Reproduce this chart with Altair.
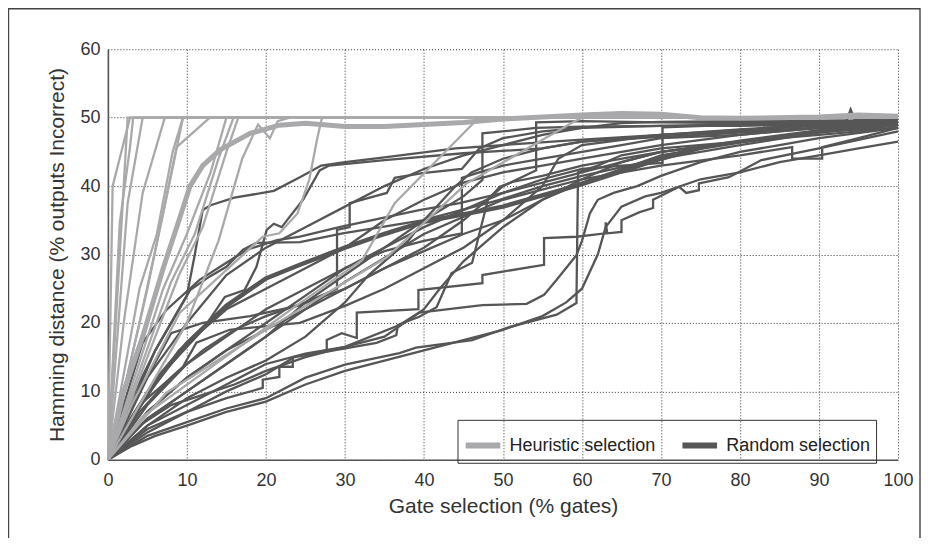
import altair as alt
import pandas as pd

# ---------------- data ----------------
X_TICKS = [0, 10, 20, 30, 40, 50, 60, 70, 80, 90, 100]
Y_TICKS = [0, 10, 20, 30, 40, 50, 60]
GROUPS = ["Heuristic selection", "Random selection"]

# heuristic selection runs (x = % gates, y = % outputs incorrect)
heur_01 = [(0, 0), (0.6, 40), (2.8, 50), (100, 50)]
heur_02 = [(0, 0), (1.5, 34.6), (2.8, 45.7), (3.2, 50), (100, 50)]
heur_03 = [(0, 0), (2.5, 50), (100, 50)]
heur_04 = [(0, 0), (2.5, 37.5), (4.4, 50), (100, 50)]
heur_05 = [(0, 0), (4, 25), (6.2, 33), (8.2, 45), (9.5, 50), (100, 50)]
heur_06 = [(0, 0), (2, 20), (4.4, 39), (7.2, 50), (100, 50)]
heur_07 = [(0, 0), (5, 25), (8.7, 45.7), (12.9, 50), (100, 50)]
heur_08 = [(0, 0), (7, 25), (10, 33), (13, 42), (15, 50), (100, 50)]
heur_09 = [(0, 0), (8, 26), (11, 33), (14, 44), (15.9, 50), (100, 50)]
heur_10 = [(0, 0), (9, 27), (12, 34), (15, 45), (16.5, 50), (100, 50)]
heur_11 = [(0, 0), (6, 12), (10, 20), (14, 32), (17, 44), (19, 49), (20.5, 47),
           (21.5, 49.5), (23, 50), (100, 50)]
heur_12 = [(0, 0), (3, 8), (9.1, 21.5), (19.6, 32.6), (21.7, 33.1), (24, 36),
           (25.5, 41), (26.5, 47), (27.1, 50), (100, 50)]
heur_13 = [(0, 0), (4.4, 6.3), (24.3, 22.9), (32.2, 29.2), (36.3, 37.5),
           (46, 48.9), (47, 50), (100, 50)]
heur_14 = [(0, 0), (7.4, 9.8), (20, 19), (35.3, 29.6), (45.4, 40.4),
           (58.8, 49.3), (60, 50), (100, 50)]
heur_15 = [(0, 0), (4, 20), (7, 36), (9.5, 50), (100, 50)]
heur_mean = [(0, 0), (2, 10), (4.4, 18), (7, 28), (9, 35), (10.4, 40), (12, 43),
             (14.2, 45.3), (18, 47.7), (21.7, 48.9), (25, 49.2), (30, 48.7),
             (35, 48.7), (40, 49), (45, 49.3), (50, 49.8), (55, 50.1), (60, 50.4),
             (65, 50.6), (70, 50.5), (75, 50), (80, 49.9), (90, 50.1), (95, 50.4),
             (100, 50.2)]

# random selection runs
rand_01 = [(0, 0), (3, 8), (6, 16), (8.5, 21), (10, 24), (11, 30), (12, 36.5),
           (13, 37.2), (16, 38.3), (21, 39.3), (24.3, 41.3), (27, 43), (30, 43.5),
           (35, 44.2), (44, 45.5), (50, 46), (60, 46.8), (70, 47.5), (80, 48.3),
           (90, 49), (100, 49.3)]
rand_02 = [(0, 0), (4, 8), (8, 14), (12, 19), (14.8, 23.8), (17.3, 24.8),
           (18.8, 28.2), (20.1, 33.6), (21, 34.5), (22, 34), (23, 35.5),
           (24.7, 38), (26.8, 42.3), (28, 43), (35, 43.8), (45, 44.8), (55, 45.5),
           (60, 46.5), (70, 47.2), (80, 47.8), (90, 48.5), (100, 49.5)]
rand_03 = [(0, 0), (2, 8), (4.4, 17.1), (7.4, 21.9), (11.6, 26.3), (15, 28.8),
           (17.6, 30.7), (21.4, 32.1), (24.3, 32.6), (29.3, 34), (39.4, 36.5),
           (44.5, 37.5), (50, 39), (60, 42), (70, 45), (80, 46.5), (90, 48),
           (100, 48.5)]
rand_04 = [(0, 0), (3, 9), (6, 16), (10.4, 24.8), (12.9, 26.8), (15, 28.2),
           (17.1, 30.7), (18.8, 31.7), (24.3, 31.8), (29.7, 33.1), (39.8, 35),
           (49.6, 38), (55, 40), (60, 41.5), (70, 44), (80, 46), (90, 47.8),
           (100, 49)]
rand_05 = [(0, 0), (4, 8), (7, 11), (9.5, 13.6), (11.2, 17.1), (15.4, 19),
           (24.3, 20), (30, 22.5), (35, 25), (40, 28), (45, 31), (50, 35),
           (55, 40), (57, 44), (60, 46), (70, 47.5), (80, 48), (90, 48.5),
           (100, 49)]
rand_06 = [(0, 0), (4, 7), (8, 12), (12, 16), (16, 19), (20, 21), (25, 23),
           (29, 25), (29, 33.6), (30.6, 34), (30.6, 37.5), (35.3, 39), (36.3, 41.2),
           (39.8, 41.9), (44.8, 42.5), (47, 45.5), (50, 47), (55, 48), (60, 48.5),
           (70, 48.8), (80, 49), (90, 49.3), (100, 49.6)]
rand_07 = [(0, 0), (5, 7), (10, 12), (15, 16), (20, 20), (25, 24), (30, 28),
           (35, 30.5), (40, 32), (44.8, 33.1), (44.8, 41.2), (47, 42), (50, 43),
           (55, 44), (60, 45), (65, 46), (70, 47), (80, 47.5), (90, 48.5),
           (100, 49.5)]
rand_08 = [(0, 0), (5, 6), (10, 10), (15, 14), (20, 18), (25, 23), (30, 27),
           (35, 31), (40, 35), (45, 38.5), (47.4, 40.9), (47.4, 47.7),
           (54.2, 48.5), (60, 48.7), (70, 48.8), (80, 48.8), (90, 49),
           (100, 49.4)]
rand_09 = [(0, 0), (5, 8), (10, 14), (15, 18), (20, 22), (30, 28), (40, 34),
           (50, 39), (55, 41), (60, 42.5), (65, 43), (70.2, 43.4), (70.2, 48.6),
           (80, 49), (90, 49.2), (100, 49.5)]
rand_10 = [(0, 0), (5, 4.5), (10, 7), (15, 10), (20, 12.5), (23.6, 15),
           (27.7, 15.8), (34, 17.1), (36.5, 18.2), (36.7, 19.7), (39.4, 20.9),
           (41.6, 22.3), (43.5, 27.3), (46.1, 28.8), (47, 33), (48.1, 38),
           (49.6, 39.9), (51.2, 40.6), (55, 41.5), (60, 43), (70, 45), (80, 46.5),
           (90, 48), (100, 49)]
rand_11 = [(0, 0), (5, 3.5), (10, 5.5), (15, 7.5), (20, 9), (25, 12), (30, 13.9),
           (36.9, 15.6), (39, 16.4), (46.1, 17.5), (50.8, 19.4), (56.8, 21.2),
           (59.3, 22.9), (59.5, 42), (62, 43), (65, 44.5), (70, 45.5), (80, 46.5),
           (90, 48), (100, 49)]
rand_12 = [(0, 0), (5, 5), (10, 8), (15, 11), (20, 14), (25, 15.5), (30, 16.5),
           (36.9, 19.7), (39.4, 21.5), (47.4, 22.6), (53, 22.8), (55.2, 24.1),
           (56.8, 26.3), (59.3, 29.9), (60, 32), (61, 36), (62, 38), (64, 39),
           (67, 40), (70, 41.5), (75, 43.5), (80, 45), (85, 46), (90, 47),
           (100, 48.5)]
rand_13 = [(0, 0), (5, 4), (10, 7), (15, 9), (19.6, 10.5), (19.6, 11.7),
           (21.7, 12.1), (21.7, 13.6), (23.4, 13.6), (23.4, 15), (27.7, 16),
           (27.7, 17.5), (29.6, 18.5), (31.5, 17.8), (31.5, 21.5), (39.3, 22),
           (39.3, 24.8), (47.4, 25.8), (47.4, 27), (55.2, 28.5), (55.2, 32.4),
           (59.3, 32.6), (63, 33.1), (63, 34.7), (63.2, 33.1), (65, 33.3),
           (65, 35), (67.3, 36.2), (69, 36.8), (69, 38), (72.3, 39.9), (73.2, 39),
           (74.8, 39.4), (74.8, 40.4), (78.6, 41.3), (80.3, 42.3), (82.7, 43.8),
           (90, 45.5), (100, 48)]
rand_14 = [(0, 0), (3, 2), (6, 3.5), (10, 5), (15, 7), (20, 8.5), (25, 11),
           (30, 13), (35, 14.5), (40, 16), (45, 17.5), (50, 19), (55, 21),
           (58, 23), (60, 25), (62, 30), (63, 34), (65, 37), (68, 38.5), (70, 39),
           (75, 41), (80, 42), (85, 43.5), (90, 44.5), (95, 45.5), (100, 46.5)]
rand_15 = [(0, 0), (5, 6), (10, 10), (20, 18), (30, 26), (40, 33), (50, 38),
           (60, 41), (70, 43), (80, 44.5), (86.6, 45.7), (86.6, 44), (90.4, 44),
           (90.4, 45.7), (95, 47), (100, 48.5)]
rand_16 = [(0, 0), (3, 6), (6, 11), (9, 16), (12, 19), (15, 22), (20, 25),
           (25, 28), (30, 31), (35, 35), (40, 38), (45, 40.5), (50, 42), (55, 43),
           (60, 44), (70, 46), (80, 47.5), (90, 48.5), (100, 49)]
rand_17 = [(0, 0), (4, 5), (8, 8), (12, 9.5), (16, 11), (20, 13), (25, 15),
           (30, 16.5), (35, 18), (40, 22), (42, 25), (45, 29), (47, 31), (50, 34),
           (55, 38), (60, 41), (65, 43.5), (70, 45), (80, 46.5), (90, 47.5),
           (100, 48.5)]
rand_18 = [(0, 0), (4, 10), (8, 18.5), (12, 20), (18, 21), (24, 22.5), (30, 25),
           (35, 28), (40, 30.5), (45, 33), (50, 35), (55, 38), (60, 40.5),
           (65, 42.5), (70, 44.5), (80, 46.5), (90, 48), (100, 49.5)]
rand_19 = [(0, 0), (5, 12), (10, 20), (15, 27), (20, 31), (25, 34), (30, 37),
           (35, 40), (40, 42.5), (45, 44.5), (50, 46), (55, 47.5), (60, 48.5),
           (65, 49.2), (70, 49.4), (80, 49.5), (93.5, 49.6), (94, 51.2),
           (94.5, 49.8), (100, 49.8)]
rand_20 = [(0, 0), (5, 5), (10, 9), (15, 12), (20, 14.5), (25, 18), (30, 23),
           (33, 27), (36, 30), (38, 32), (40, 35), (42, 37.5), (44, 40), (46, 42),
           (50, 44), (55, 45.5), (60, 46.5), (70, 47.5), (80, 48.2), (90, 48.8),
           (100, 49.2)]
rand_21 = [(0, 0), (5, 7), (10, 12), (15, 16), (20, 19), (25, 22), (30, 25),
           (35, 28), (40, 31), (45, 35), (50, 40), (54.2, 42.3), (54.2, 49.3),
           (60, 49.5), (70, 49.3), (80, 49.2), (90, 49.5), (100, 49.7)]
rand_mean = [(0, 0), (3, 6), (6, 11.5), (10, 17), (15, 22.5), (20, 26.5),
             (24.3, 28.5), (30, 31), (35, 33), (40, 34.8), (47, 36.3), (50, 37),
             (60, 40.3), (70, 44), (75, 45.6), (80, 46.5), (90, 48), (100, 49)]

HEUR_RUNS = [heur_01, heur_02, heur_03, heur_04, heur_05, heur_06, heur_07,
             heur_08, heur_09, heur_10, heur_11, heur_12, heur_13, heur_14, heur_15]
RAND_RUNS = [rand_01, rand_02, rand_03, rand_04, rand_05, rand_06, rand_07,
             rand_08, rand_09, rand_10, rand_11, rand_12, rand_13, rand_14,
             rand_15, rand_16, rand_17, rand_18, rand_19, rand_20, rand_21]


def frame(runs, group, prefix):
    rows = []
    for k, run in enumerate(runs):
        for i, (x, y) in enumerate(run):
            rows.append({"sid": f"{prefix}{k}", "group": group, "i": i, "x": x, "y": y})
    return pd.DataFrame(rows)


df_rand = frame(RAND_RUNS, GROUPS[1], "r")
df_rand_mean = frame([rand_mean], GROUPS[1], "rm")
df_heur = frame(HEUR_RUNS, GROUPS[0], "h")
df_heur_mean = frame([heur_mean], GROUPS[0], "hm")

FONT = "Liberation Sans"

x_enc = alt.X("x:Q", scale=alt.Scale(domain=[0, 100], nice=False),
              axis=alt.Axis(values=X_TICKS, title="Gate selection (% gates)"))
y_enc = alt.Y("y:Q", scale=alt.Scale(domain=[0, 60], nice=False),
              axis=alt.Axis(values=Y_TICKS, title="Hamming distance (% outputs Incorrect)"))
color_enc = alt.Color("group:N",
                      scale=alt.Scale(domain=GROUPS, range=["#a9a9ab", "#565656"]),
                      legend=alt.Legend(title=None, orient="none", legendX=350, legendY=371,
                                        direction="horizontal"))


def lines(df, width):
    return alt.Chart(df).mark_line(strokeWidth=width, clip=True,
                                   strokeJoin="miter").encode(
        x=x_enc, y=y_enc, color=color_enc, detail="sid:N", order="i:Q")


border = alt.Chart(pd.DataFrame({"a": [0]})).mark_rect(
    filled=False, stroke="#444", strokeWidth=1.4, clip=False
).encode(x=alt.value(-99.5), x2=alt.value(813), y=alt.value(-40.5), y2=alt.value(800))

chart = alt.layer(
    border,
    lines(df_rand, 2.3),
    lines(df_rand_mean, 4.5),
    lines(df_heur, 2.3),
    lines(df_heur_mean, 5),
).properties(
    width=791, height=411,
    autosize=alt.AutoSizeParams(type="none"),
    padding={"left": 100, "top": 41, "right": 24, "bottom": 78},
).configure_view(
    stroke=None
).configure_axis(
    grid=True, gridColor="#333", gridDash=[1, 2], gridWidth=1,
    domainColor="#555", domainWidth=1.6, ticks=False, labelFlush=False,
    labelFont=FONT, labelFontSize=18, labelColor="#333",
    titleFont=FONT, titleFontSize=21, titleColor="#333", titleFontWeight="normal",
).configure_axisX(
    labelPadding=12, titlePadding=6,
).configure_axisY(
    labelPadding=8, titlePadding=12,
).configure_legend(
    symbolType="stroke", symbolStrokeWidth=6, symbolSize=1200,
    labelFont=FONT, labelFontSize=18, labelColor="#222",
    strokeColor="#333", padding=5, columnPadding=14, labelOffset=6,
)

chart.save("out.html", embed_options={"renderer": "svg", "actions": False})
